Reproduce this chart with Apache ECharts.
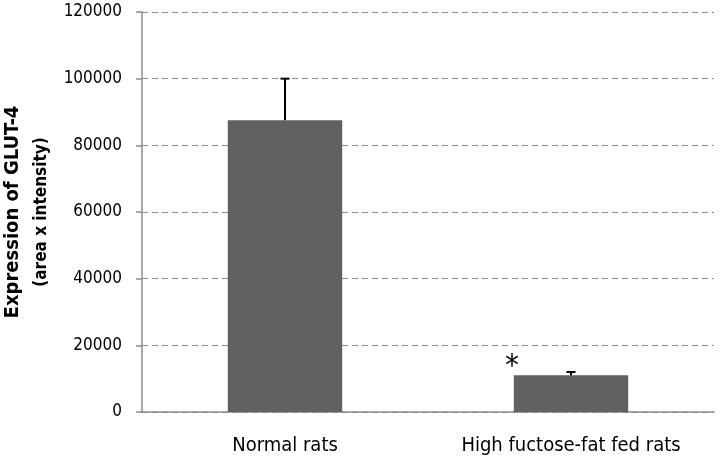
<!DOCTYPE html>
<html>
<head>
<meta charset="utf-8">
<script src="https://cdn.jsdelivr.net/npm/echarts@6/dist/echarts.min.js"></script>
<style>
html, body { margin: 0; padding: 0; background: #fff; }
#main { width: 720px; height: 466px; }
</style>
</head>
<body>
<div id="main"></div>
<script>
var categories = ['Normal rats', 'High fuctose-fat fed rats'];
var values = [87500, 11000];
var errors = [12500, 1000];
var marks = ['', '*'];

var chart = echarts.init(document.getElementById('main'));
var font = '"DejaVu Sans Condensed", "DejaVu Sans", sans-serif';

var option = {
	animation: false,
	grid: { left: 142, right: 6, top: 12, bottom: 54, outerBoundsMode: 'none' },
	xAxis: {
		type: 'category',
		data: categories,
		axisLine: { lineStyle: { color: '#8c8c8c', width: 1.5 } },
		axisTick: { length: 6, lineStyle: { color: '#8c8c8c', width: 1.5 } },
		axisLabel: { color: '#000', fontSize: 20, fontFamily: font, margin: 24 }
	},
	yAxis: {
		type: 'value',
		min: 0,
		max: 120000,
		interval: 20000,
		name: '{a|Expression of GLUT-4}\n{b|(area x intensity)}',
		nameLocation: 'middle',
		nameRotate: 90,
		nameGap: 86,
		nameTextStyle: {
			fontFamily: font,
			rich: {
				a: { fontSize: 20, fontWeight: 'bold', fontFamily: font, color: '#000', lineHeight: 29 },
				b: { fontSize: 17, fontWeight: 'bold', fontFamily: font, color: '#000', lineHeight: 29 }
			}
		},
		axisLine: { show: true, lineStyle: { color: '#8c8c8c', width: 1.5 } },
		axisTick: { show: true, length: 6, lineStyle: { color: '#8c8c8c', width: 1.5 } },
		axisLabel: {
			color: '#000', fontSize: 17, fontFamily: font, margin: 20,
			formatter: function (v) { return String(v); }
		},
		splitLine: { lineStyle: { color: '#8c8c8c', type: [6, 4], width: 1 } }
	},
	series: [{
		type: 'bar',
		data: values,
		barWidth: '40%',
		itemStyle: { color: '#616161' }
	}, {
		type: 'custom',
		data: values.map(function (v, i) { return [i, v, errors[i]]; }),
		renderItem: function (params, api) {
			var i = api.value(0);
			var base = api.coord([i, api.value(1)]);
			var top = api.coord([i, api.value(1) + api.value(2)]);
			var children = [{
				type: 'line',
				shape: { x1: base[0], y1: base[1], x2: top[0], y2: top[1] },
				style: { stroke: '#000', lineWidth: 2 }
			}, {
				type: 'line',
				shape: { x1: top[0] - 4.5, y1: top[1], x2: top[0] + 4.5, y2: top[1] },
				style: { stroke: '#000', lineWidth: 2 }
			}];
			if (marks[params.dataIndex]) {
				children.push({
					type: 'text',
					style: {
						text: marks[params.dataIndex],
						x: top[0] - 59,
						y: top[1] - 5,
						fontSize: 30,
						fontFamily: font,
						fill: '#000',
						align: 'center',
						verticalAlign: 'middle'
					}
				});
			}
			return { type: 'group', children: children };
		},
		z: 3
	}]
};
chart.setOption(option);
</script>
</body>
</html>
